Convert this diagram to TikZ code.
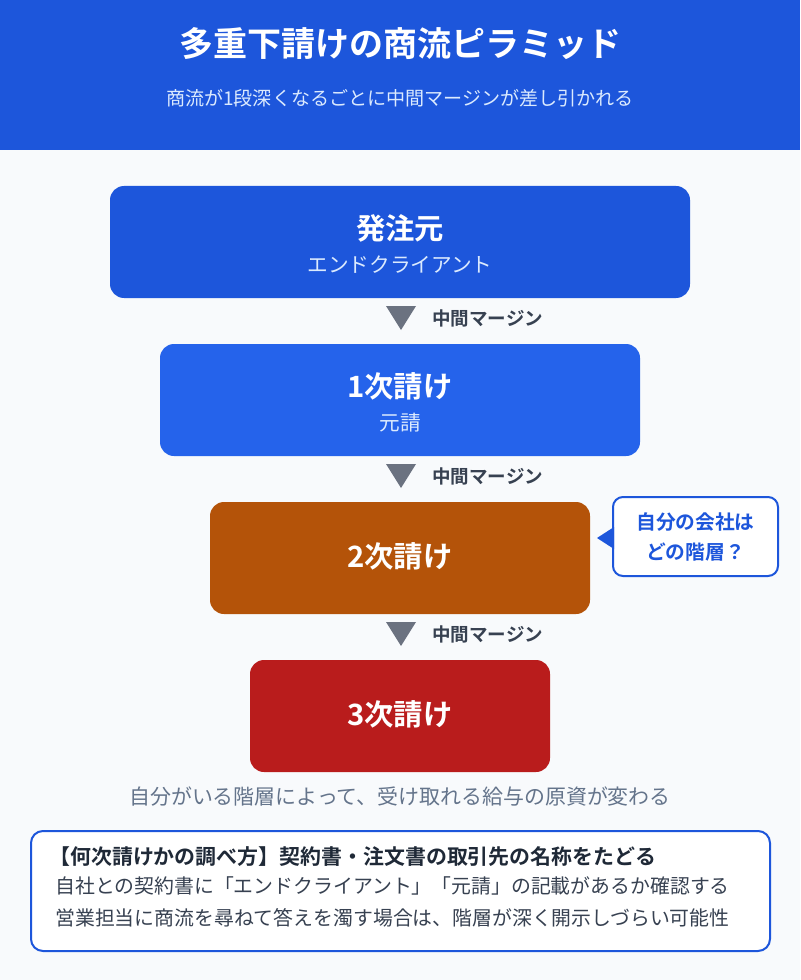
\documentclass[tikz,border=0pt]{standalone}
\usepackage{fontspec}
\setmainfont{Noto Sans CJK JP}[BoldFont={Noto Sans CJK JP Bold}]
\definecolor{bgc}{HTML}{F8FAFC}
\definecolor{hdr}{HTML}{1D56DB}
\definecolor{tierA}{HTML}{1D56DB}
\definecolor{tierB}{HTML}{2563EB}
\definecolor{tierC}{HTML}{B45309}
\definecolor{tierD}{HTML}{B91C1C}
\definecolor{lightt}{HTML}{DBEAFE}
\definecolor{arrowg}{HTML}{6B7280}
\definecolor{marg}{HTML}{374151}
\definecolor{capt}{HTML}{64748B}
\definecolor{headt}{HTML}{1F2937}
\definecolor{bodyt}{HTML}{374151}
\definecolor{calloutc}{HTML}{1D56DB}
\tikzset{
  tierbox/.style={rounded corners=10.5pt, minimum height=84pt, inner sep=0pt, draw=none},
  tiertitle/.style={text=white, font=\fontsize{22}{26}\selectfont\bfseries, inner sep=0pt},
  tiersub/.style={text=lightt, font=\fontsize{15.5}{18}\selectfont, inner sep=0pt},
  marginlbl/.style={text=marg, font=\fontsize{13.9}{16}\selectfont\bfseries, anchor=west, inner sep=0pt},
  downtri/.style={fill=arrowg},
  bodyline/.style={text=bodyt, font=\fontsize{14.9}{18}\selectfont, anchor=west, inner sep=0pt},
}
\begin{document}
\begin{tikzpicture}[x=0.75pt,y=-0.75pt]
\fill[bgc] (0,0) rectangle (800,980);
\useasboundingbox (0,0) rectangle (800,980);
% header
\fill[hdr] (0,0) rectangle (800,150);
\node[text=white, font=\fontsize{25.5}{30}\selectfont\bfseries, inner sep=0pt] (title) at (400,44) {多重下請けの商流ピラミッド};
\node[text=lightt, font=\fontsize{14.3}{18}\selectfont, inner sep=0pt] (subtitle) at (400,98) {商流が1段深くなるごとに中間マージンが差し引かれる};
% tiers
\node[tierbox, fill=tierA, minimum width=435pt] (b1) at (400,242) {};
\node[tiertitle] (b1t) at (400,228) {発注元};
\node[tiersub] (b1s) at (400,265) {エンドクライアント};

\fill[downtri] (386,306) -- (416,306) -- (401,330) -- cycle;
\node[marginlbl] (m1) at (432,318) {中間マージン};

\node[tierbox, fill=tierB, minimum width=360pt] (b2) at (400,400) {};
\node[tiertitle] (b2t) at (400,386) {1次請け};
\node[tiersub] (b2s) at (400,423) {元請};

\fill[downtri] (386,464) -- (416,464) -- (401,488) -- cycle;
\node[marginlbl] (m2) at (432,476) {中間マージン};

\node[tierbox, fill=tierC, minimum width=285pt] (b3) at (400,558) {};
\node[tiertitle] (b3t) at (400,556) {2次請け};

\fill[downtri] (386,622) -- (416,622) -- (401,646) -- cycle;
\node[marginlbl] (m3) at (432,634) {中間マージン};

\node[tierbox, fill=tierD, minimum width=225pt] (b4) at (400,716) {};
\node[tiertitle] (b4t) at (400,714) {3次請け};

% callout
\node[draw=calloutc, line width=1.5pt, fill=white, rounded corners=7.5pt, minimum width=123.75pt, minimum height=59.25pt, inner sep=0pt] (call) at (695.5,536.5) {};
\fill[calloutc] (614,527) -- (597,538) -- (614,549) -- cycle;
\node[text=calloutc, font=\fontsize{14.8}{22}\selectfont\bfseries, align=center, inner sep=0pt] (callt) at (695.5,537) {自分の会社は\\どの階層？};

% caption
\node[text=capt, font=\fontsize{15.7}{18}\selectfont, inner sep=0pt] (cap) at (400,797) {自分がいる階層によって、受け取れる給与の原資が変わる};

% info box
\node[draw=calloutc, line width=1.5pt, fill=white, rounded corners=9pt, minimum width=554.25pt, minimum height=90pt, inner sep=0pt] (info) at (400.5,891) {};
\node[text=headt, font=\fontsize{15.7}{18}\selectfont\bfseries, anchor=west, inner sep=0pt] (infoh) at (49,857) {【何次請けかの調べ方】契約書・注文書の取引先の名称をたどる};
\node[bodyline] (info1) at (55,886) {自社との契約書に「エンドクライアント」「元請」の記載があるか確認する};
\node[bodyline] (info2) at (55,918) {営業担当に商流を尋ねて答えを濁す場合は、階層が深く開示しづらい可能性};
\end{tikzpicture}
\end{document}
